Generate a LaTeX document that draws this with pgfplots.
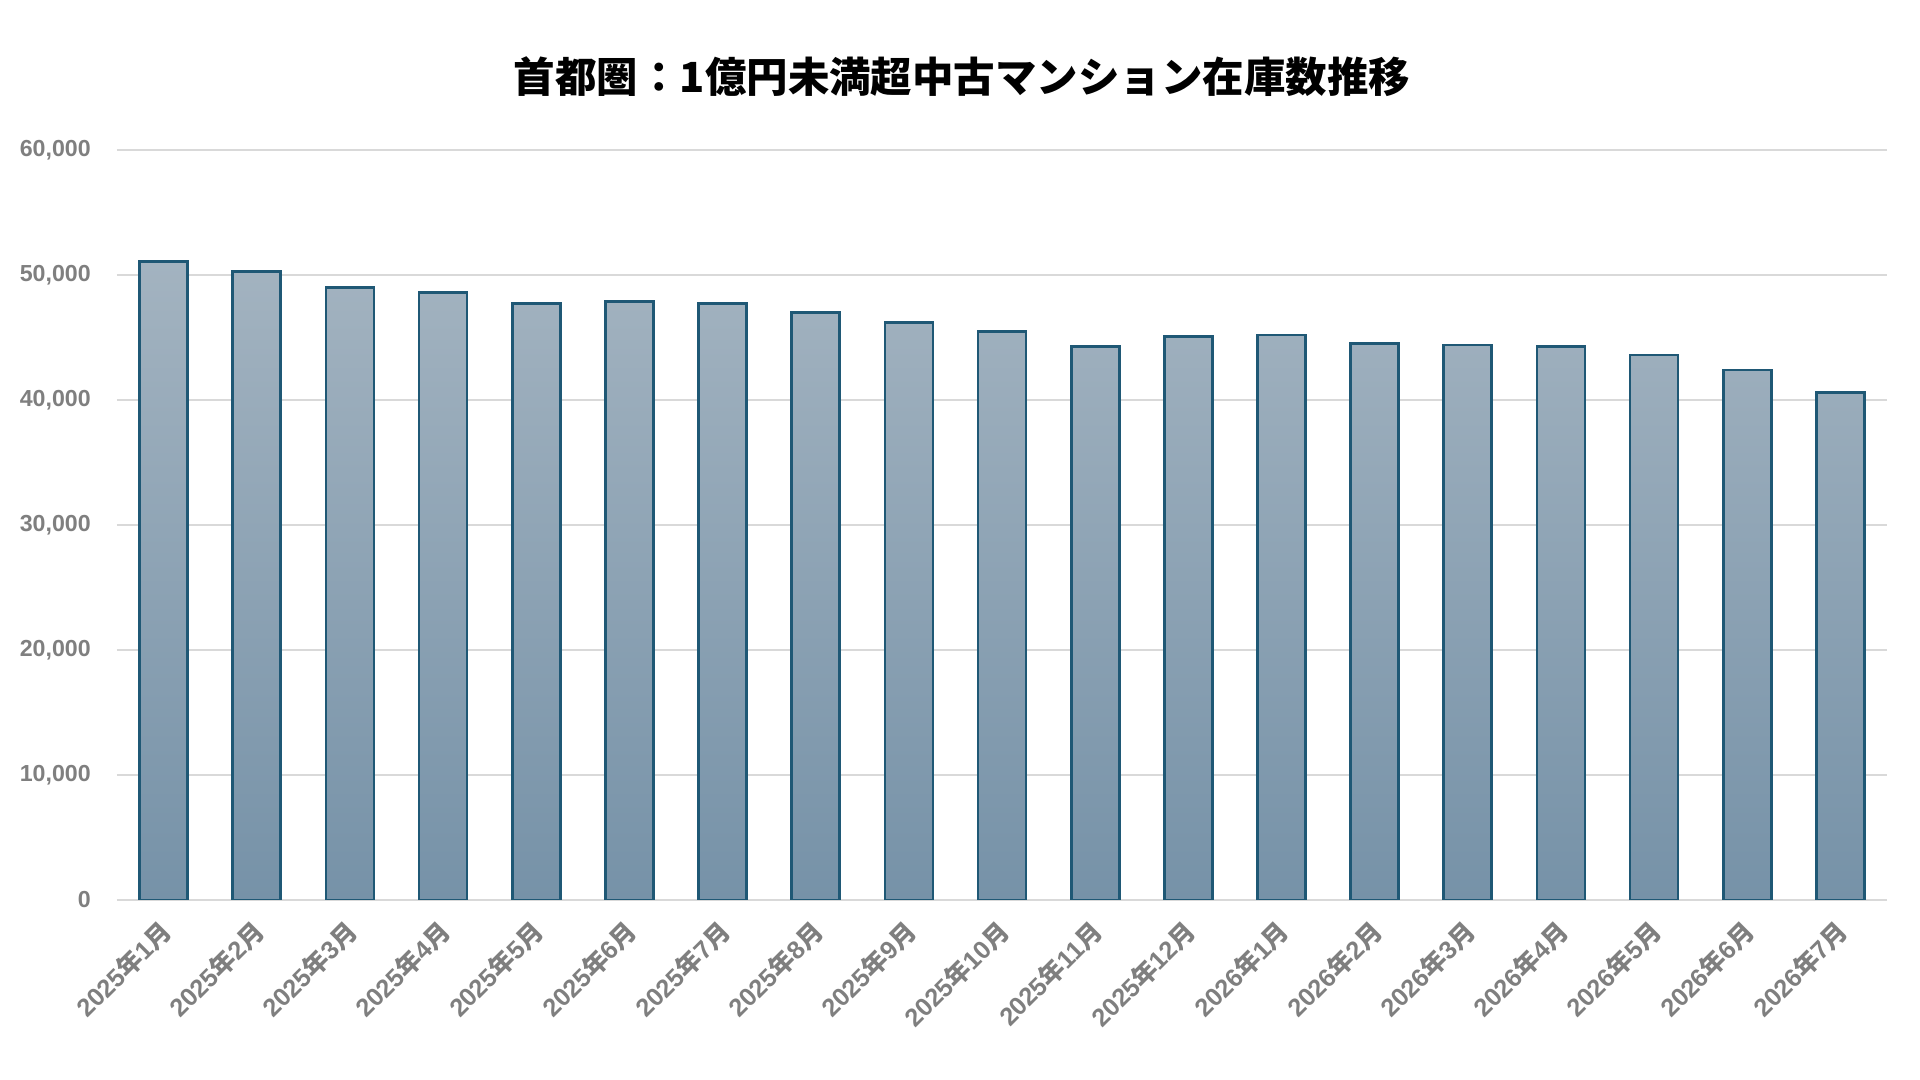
\documentclass[border=0pt]{standalone}
\usepackage{fontspec}
\setmainfont{Liberation Sans}
\newfontfamily\cjk{Noto Sans CJK JP}
\usepackage{pgfplots}
\usepackage{pgfplotstable}
\pgfplotsset{compat=1.18}
\definecolor{barTop}{RGB}{163,179,192}
\definecolor{barBot}{RGB}{118,146,168}
\definecolor{barEdge}{RGB}{31,88,117}
\definecolor{gridgray}{RGB}{217,217,217}
\definecolor{labgray}{RGB}{127,127,127}
\newcommand\ym[2]{#1{\cjk 年}#2{\cjk 月}}
\pgfplotstableread{
x y
0 51100
1 50300
2 49000
3 48600
4 47700
5 47900
6 47700
7 47000
8 46200
9 45500
10 44300
11 45100
12 45200
13 44500
14 44400
15 44300
16 43600
17 42400
18 40600
}\datatable
\begin{document}
\begin{tikzpicture}
\useasboundingbox (0,0) rectangle (19.2cm,10.8cm);
\begin{axis}[
  at={(1.17cm,1.80cm)}, anchor=south west,
  scale only axis, width=17.70cm, height=7.50cm,
  xmin=-0.5, xmax=18.5, ymin=0, ymax=60000,
  ytick={0,10000,...,60000},
  /pgf/number format/assume math mode=true,
  /pgf/number format/1000 sep={,},
  scaled y ticks=false,
  axis lines*=left,
  x axis line style={draw=gridgray, line width=0.2mm},
  y axis line style={draw=none},
  ymajorgrids, grid style={draw=gridgray, line width=0.2mm},
  ytick style={draw=none},
  xtick={0,...,18},
  xtick style={draw=none},
  major tick length=0.7mm,
  tick align=outside,
  extra x ticks={-0.5,0.5,...,18.5},
  extra x tick labels={},
  extra x tick style={grid=none, tick style={draw=gridgray, line width=0.2mm}},
  xticklabels={\ym{2025}{1},\ym{2025}{2},\ym{2025}{3},\ym{2025}{4},\ym{2025}{5},\ym{2025}{6},\ym{2025}{7},\ym{2025}{8},\ym{2025}{9},\ym{2025}{10},\ym{2025}{11},\ym{2025}{12},\ym{2026}{1},\ym{2026}{2},\ym{2026}{3},\ym{2026}{4},\ym{2026}{5},\ym{2026}{6},\ym{2026}{7}},
  xticklabel style={xshift=-0.6mm, yshift=-1.0mm, rotate=45, anchor=north east, inner sep=0pt,
    font=\bfseries\fontsize{7.2}{8}\selectfont, text=labgray},
  yticklabel style={anchor=east, inner sep=0pt, xshift=-1.85mm,
    font=\bfseries\fontsize{6.6}{7}\selectfont, text=labgray},
  ybar, bar width=4.8mm,
]
\addplot[ybar, draw=barEdge, line width=0.27mm, top color=barTop, bottom color=barBot] table[x=x,y=y]{\datatable};
\end{axis}
\node[font=\cjk\bfseries\fontsize{11.8}{13}\selectfont, inner sep=0pt] at (9.62cm,10.03cm) {首都圏：1億円未満超中古マンション在庫数推移};
\end{tikzpicture}
\end{document}
